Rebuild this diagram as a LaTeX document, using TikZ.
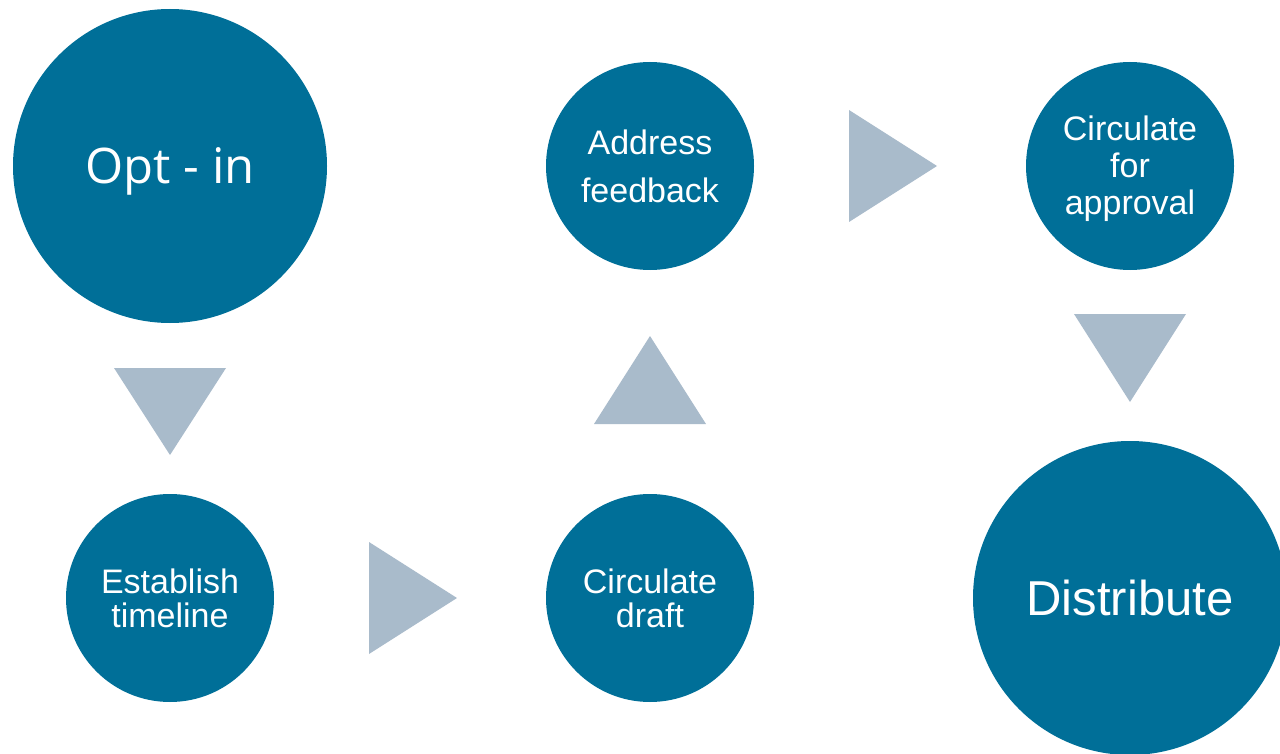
\documentclass[tikz,border=0pt]{standalone}
\usepackage{fontspec}
\setmainfont{Liberation Sans}
\newfontfamily\optfont{Open Sans}
\definecolor{circ}{RGB}{0,111,152}
\definecolor{tri}{RGB}{169,187,203}
\begin{document}
\begin{tikzpicture}[x=1pt,y=-1pt,
  bigc/.style={circle,fill=circ,text=white,minimum size=314pt,inner sep=0pt,align=center},
  smallc/.style={circle,fill=circ,text=white,minimum size=208pt,inner sep=0pt,align=center},
  arrowtri/.style={fill=tri}]
\useasboundingbox (0,0) rectangle (1280,754);
\clip (0,0) rectangle (1280,754);
\node[bigc] (optin) at (170,166) {};
\node[text=white,font=\optfont\fontsize{49}{56}\selectfont] at (optin.center) [yshift=-5pt] {Opt - in};
\node[smallc,font=\fontsize{34}{34}\selectfont] (timeline) at (170,598) {Establish\\timeline};
\node[smallc,font=\fontsize{34}{34}\selectfont] (draft) at (650,598) {Circulate\\draft};
\node[smallc,font=\fontsize{34}{48}\selectfont] (feedback) at (650,166) {Address\\feedback};
\node[smallc] (approval) at (1130,166) {};
\node[text=white,align=center,font=\fontsize{34}{37}\selectfont] at (approval.center) [yshift=-3pt] {Circulate\\for\\approval};
\node[bigc,font=\fontsize{49}{56}\selectfont] (distribute) at (1130,598) {Distribute};
% triangles
\fill[arrowtri] (114,368) -- (226,368) -- (170,455) -- cycle;
\fill[arrowtri] (369,542) -- (369,654) -- (457,598) -- cycle;
\fill[arrowtri] (594,424) -- (706,424) -- (650,336) -- cycle;
\fill[arrowtri] (849,110) -- (849,222) -- (937,166) -- cycle;
\fill[arrowtri] (1074,314) -- (1186,314) -- (1130,402) -- cycle;
\end{tikzpicture}
\end{document}
